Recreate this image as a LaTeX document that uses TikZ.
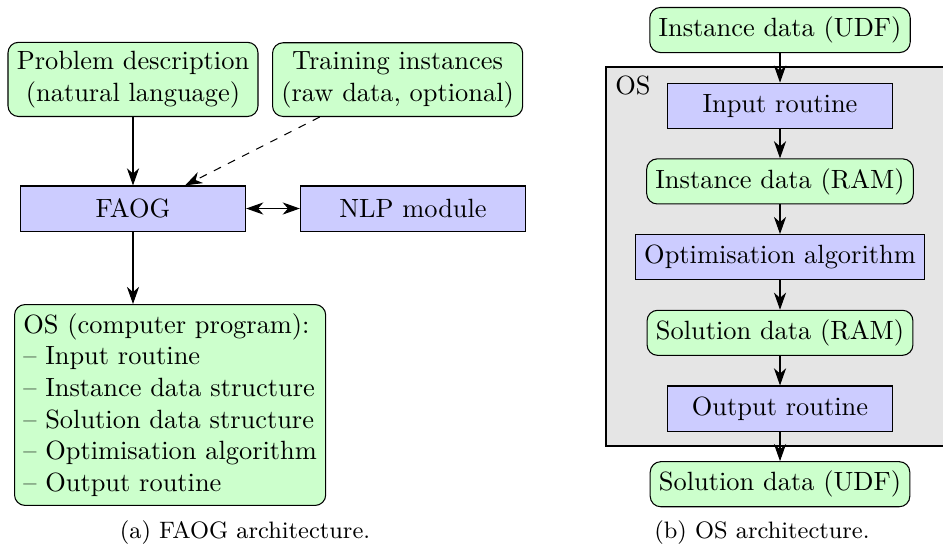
\documentclass[tikz,border=0pt]{standalone}
\usetikzlibrary{arrows.meta,calc}
\tikzset{
  greenbox/.style={draw=black, fill=green!20, rounded corners=4pt, minimum height=0.6cm, inner sep=3.33pt},
  bluebox/.style={draw=black, fill=blue!20, minimum width=3cm, minimum height=0.6cm, inner sep=3.33pt},
  tip/.tip={Stealth[length=6.5pt,width=4.6pt,inset=2pt]},
  arr/.style={-tip, draw=black},
  darr/.style={tip-tip, draw=black},
  capt/.style={font=\small, anchor=base, inner sep=0pt},
  framefill/.style={fill=gray!20, draw=none},
  frameline/.style={draw=black},
}
\begin{document}
\begin{tikzpicture}[x=0.3788pt, y=-0.3788pt]
\useasboundingbox (0,0) rectangle (943,548);
% ---------- (a) FAOG architecture ----------
\node[greenbox, align=center, anchor=south] (prob) at (133,117) {Problem description\\(natural language)};
\node[greenbox, align=center, anchor=south west] (train) at (272,117) {Training instances\\(raw data, optional)};
\node[bluebox] (faog) at (133,208.5) {FAOG};
\node[bluebox] (nlp) at (413,208.5) {NLP module};
\node[greenbox, align=left, anchor=north west] (os) at (14,304) {OS (computer program):\\-- Input routine\\-- Instance data structure\\-- Solution data structure\\-- Optimisation algorithm\\-- Output routine};
\draw[arr] (prob) -- (faog);
\draw[arr, dashed] ($(train.south west)!0.19!(train.south east)$) -- ($(faog.north west)!0.73!(faog.north east)$);
\draw[darr] (faog) -- (nlp);
\draw[arr] (faog.south) -- (faog.south |- os.north);
\node[capt] (capa) at (245,538) {(a) FAOG architecture.};
% ---------- (b) OS architecture ----------
\coordinate (fnw) at (606,67);
\coordinate (fse) at (990,446);
\path[framefill] (fnw) rectangle (fse);
\draw[frameline] (fnw -| fse) -- (fnw) -- (fnw |- fse) -- (fse);
\node[anchor=north west, inner sep=3.33pt] (oslabel) at (fnw) {OS};
\node[greenbox] (iudf) at (780,30) {Instance data (UDF)};
\node[bluebox] (inr) at (780,105.7) {Input routine};
\node[greenbox] (iram) at (780,181.4) {Instance data (RAM)};
\node[bluebox] (opt) at (780,257.1) {Optimisation algorithm};
\node[greenbox] (sram) at (780,332.8) {Solution data (RAM)};
\node[bluebox] (outr) at (780,408.5) {Output routine};
\node[greenbox] (sudf) at (780,484.2) {Solution data (UDF)};
\draw[arr] (iudf) -- (inr);
\draw[arr] (inr) -- (iram);
\draw[arr] (iram) -- (opt);
\draw[arr] (opt) -- (sram);
\draw[arr] (sram) -- (outr);
\draw[arr] (outr) -- (sudf);
\node[capt] (capb) at (762,538) {(b) OS architecture.};
\end{tikzpicture}
\end{document}
